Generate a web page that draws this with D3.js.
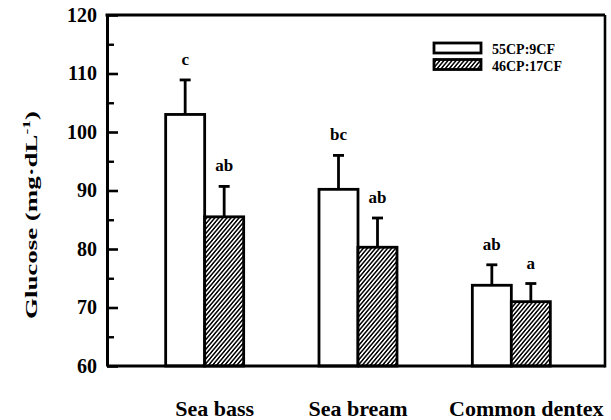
<!DOCTYPE html>
<html><head><meta charset="utf-8">
<script src="https://cdn.jsdelivr.net/npm/d3@7"></script>
<style>
html,body{margin:0;padding:0;background:#fff;}
text{font-family:"Liberation Serif","Times New Roman",serif;font-weight:bold;fill:#000;}
</style></head>
<body><svg id="c" width="611" height="420"></svg>
<script>
const categories = ["Sea bass", "Sea bream", "Common dentex"];
const seriesNames = ["55CP:9CF", "46CP:17CF"];
const values55 = [103.0, 90.2, 73.8];
const errors55 = [5.9, 5.8, 3.5];
const letters55 = ["c", "bc", "ab"];
const values46 = [85.5, 80.3, 71.0];
const errors46 = [5.2, 5.0, 3.1];
const letters46 = ["ab", "ab", "a"];
const yTicks = [60, 70, 80, 90, 100, 110, 120];
const yMinorTicks = [65, 75, 85, 95, 105, 115];

const svg = d3.select("#c");
const L = 107, R = 605, T = 15, B = 366;

const defs = svg.append("defs");
const hs = 3.1;
const pat = defs.append("pattern").attr("id", "hatch").attr("patternUnits", "userSpaceOnUse")
  .attr("width", hs).attr("height", hs).attr("patternTransform", "rotate(40)");
pat.append("rect").attr("width", hs).attr("height", hs).attr("fill", "#fff");
pat.append("line").attr("x1", 0.8).attr("y1", 0).attr("x2", 0.8).attr("y2", hs)
  .attr("stroke", "#000").attr("stroke-width", 1.5);

const y = d3.scaleLinear().domain([60, 120]).range([B, T]);
const x0 = d3.scaleBand().domain(categories).range([128, 588]).paddingInner(0);
const x1 = d3.scaleBand().domain(seriesNames).range([0, 78]);
const off = (x0.bandwidth() - 78) / 2;

const data = categories.map((c, i) => [
  {cat: c, s: seriesNames[0], v: values55[i], e: errors55[i], l: letters55[i]},
  {cat: c, s: seriesNames[1], v: values46[i], e: errors46[i], l: letters46[i]}
]).flat();

// bars
const g = svg.append("g");
g.selectAll("rect.bar").data(data).enter().append("rect")
  .attr("x", d => x0(d.cat) + off + x1(d.s))
  .attr("y", d => y(d.v))
  .attr("width", x1.bandwidth())
  .attr("height", d => B - y(d.v))
  .attr("fill", d => d.s === seriesNames[0] ? "#fff" : "url(#hatch)")
  .attr("stroke", "#000").attr("stroke-width", 2.8);

// error bars
const cx = d => x0(d.cat) + off + x1(d.s) + x1.bandwidth() / 2;
g.selectAll("line.err").data(data).enter().append("line")
  .attr("x1", cx).attr("x2", cx)
  .attr("y1", d => y(d.v)).attr("y2", d => y(d.v + d.e))
  .attr("stroke", "#000").attr("stroke-width", 2.8);
g.selectAll("line.cap").data(data).enter().append("line")
  .attr("x1", d => cx(d) - 5.5).attr("x2", d => cx(d) + 5.5)
  .attr("y1", d => y(d.v + d.e)).attr("y2", d => y(d.v + d.e))
  .attr("stroke", "#000").attr("stroke-width", 2.8);
g.selectAll("text.lt").data(data).enter().append("text")
  .attr("x", cx).attr("y", d => y(d.v + d.e) - 15)
  .attr("text-anchor", "middle").attr("font-size", 17).text(d => d.l);

// axes
const ya = svg.append("g").attr("transform", `translate(${L},0)`)
  .call(d3.axisLeft(y).tickValues(yTicks).tickSizeInner(-11).tickSizeOuter(0).tickPadding(10).tickFormat(d3.format("d")));
ya.select(".domain").attr("stroke-width", 3);
ya.selectAll(".tick line").attr("stroke-width", 2.6);
ya.selectAll(".tick text").attr("font-size", 20).attr("font-family", "Liberation Serif").attr("font-weight", "bold");
const ym = svg.append("g").attr("transform", `translate(${L},0)`)
  .call(d3.axisLeft(y).tickValues(yMinorTicks).tickSizeInner(-7).tickSizeOuter(0).tickFormat(""));
ym.select(".domain").remove();
ym.selectAll(".tick line").attr("stroke-width", 2.4);

// frame
svg.append("line").attr("x1", L).attr("x2", R).attr("y1", B).attr("y2", B).attr("stroke", "#000").attr("stroke-width", 3);
svg.append("line").attr("x1", L - 1.5).attr("x2", R).attr("y1", T).attr("y2", T).attr("stroke", "#000").attr("stroke-width", 3);
svg.append("line").attr("x1", R).attr("x2", R).attr("y1", T).attr("y2", B + 1.5).attr("stroke", "#000").attr("stroke-width", 2.6);

// x labels
svg.selectAll("text.xl").data(categories).enter().append("text")
  .attr("x", (d, i) => x0(d) + x0.bandwidth() / 2 + (i === 1 ? 0 : (i === 0 ? 10 : 15)))
  .attr("y", 416).attr("text-anchor", "middle").attr("font-size", 22).text(d => d);

// y title
const yt = svg.append("text").attr("transform", "translate(37,215) rotate(-90)")
  .attr("text-anchor", "middle").attr("font-size", 17)
  .attr("textLength", 208).attr("lengthAdjust", "spacingAndGlyphs");
yt.append("tspan").text("Glucose (mg·dL");
yt.append("tspan").attr("font-size", 11).attr("dy", -7).text("-1");
yt.append("tspan").attr("dy", 7).text(")");

// legend
const lg = svg.append("g");
seriesNames.forEach((s, i) => {
  lg.append("rect").attr("x", 434).attr("y", 43 + i * 16.5).attr("width", 47).attr("height", 10)
    .attr("fill", i === 0 ? "#fff" : "url(#hatch)").attr("stroke", "#000").attr("stroke-width", 2.8);
  lg.append("text").attr("x", 492).attr("y", 53.5 + i * 17.5).attr("font-size", 14).text(s);
});
</script></body></html>
